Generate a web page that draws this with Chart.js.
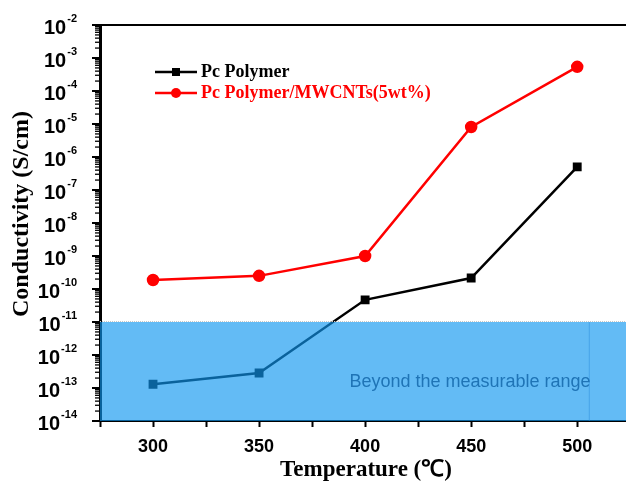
<!DOCTYPE html>
<html>
<head>
<meta charset="utf-8">
<script src="https://cdn.jsdelivr.net/npm/chart.js@4/dist/chart.umd.min.js"></script>
<style>
  html, body { margin: 0; padding: 0; background: #fff; }
  #wrap { width: 626px; height: 490px; }
</style>
</head>
<body>
<div id="wrap"><canvas id="conductivity-chart" width="626" height="490"></canvas></div>
<script>
// Values
const temperatures = [300, 350, 400, 450, 500];
const pcPolymer = [1.3e-13, 2.85e-13, 4.7e-11, 2.15e-10, 5.0e-7];
const pcPolymerCnt = [1.87e-10, 2.5e-10, 1.0e-9, 8.1e-6, 5.4e-4];
const seriesNames = ['Pc Polymer', 'Pc Polymer/MWCNTs(5wt%)'];
const seriesColors = ['#000000', '#ff0000'];
const xTickLabels = [300, 350, 400, 450, 500];
const yExponents = [-14, -13, -12, -11, -10, -9, -8, -7, -6, -5, -4, -3, -2];
const measurableLimit = 1e-11;

const SANS = '"Liberation Sans", Arial, sans-serif';
const SERIF = '"Liberation Serif", "Times New Roman", serif';

// band, axis decorations, legend and titles
const decor = {
    id: 'decor',
    afterDatasetsDraw(chart) {
        const {ctx, chartArea: a, scales: {x, y}} = chart;
        const top = y.getPixelForValue(measurableLimit);
        ctx.save();
        ctx.fillStyle = 'rgba(15, 150, 240, 0.65)';
        ctx.fillRect(a.left, top, a.right - a.left, a.bottom - top);
        // dotted edge
        ctx.strokeStyle = '#c8c8c8';
        ctx.lineWidth = 1;
        ctx.setLineDash([1, 1]);
        ctx.beginPath();
        ctx.moveTo(a.left, top - 0.5);
        ctx.lineTo(a.right, top - 0.5);
        ctx.stroke();
        ctx.setLineDash([]);
        // faint seam in the band
        const sx = x.getPixelForValue(505.7);
        ctx.strokeStyle = 'rgba(40, 140, 220, 0.5)';
        ctx.beginPath();
        ctx.moveTo(sx, top);
        ctx.lineTo(sx, a.bottom);
        ctx.stroke();
        ctx.fillStyle = '#1f74b6';
        ctx.font = '18px ' + SANS;
        ctx.textAlign = 'center';
        ctx.textBaseline = 'middle';
        ctx.fillText('Beyond the measurable range', 470, 382);
        ctx.restore();
    },
    afterDraw(chart) {
        const {ctx, chartArea: a, scales: {y}} = chart;
        ctx.save();
        // top frame
        ctx.strokeStyle = '#000';
        ctx.lineWidth = 2;
        ctx.beginPath();
        ctx.moveTo(a.left, a.top);
        ctx.lineTo(a.right, a.top);
        ctx.stroke();

        // y ticks (log, with minors)
        yExponents.forEach(e => {
            for (let m = 1; m <= 9; m++) {
                if (e === -2 && m > 1) break;
                const py = y.getPixelForValue(m * Math.pow(10, e));
                ctx.lineWidth = m === 1 ? 2 : 1.3;
                ctx.beginPath();
                ctx.moveTo(a.left - (m === 1 ? 8 : 5), py);
                ctx.lineTo(a.left, py);
                ctx.stroke();
            }
        });

        // y tick labels 10^e
        ctx.fillStyle = '#000';
        ctx.textBaseline = 'alphabetic';
        yExponents.forEach(e => {
            const py = y.getPixelForValue(Math.pow(10, e));
            const exp = String(e);
            ctx.font = 'bold 11px ' + SANS;
            const ew = ctx.measureText(exp).width;
            const right = 77;
            ctx.textAlign = 'right';
            ctx.fillText(exp, right, py - 3);
            ctx.font = 'bold 20px ' + SANS;
            ctx.fillText('10', right - ew - 1, py + 9);
        });

        // legend
        const rows = [72, 93];
        rows.forEach((ry, i) => {
            ctx.strokeStyle = seriesColors[i];
            ctx.fillStyle = seriesColors[i];
            ctx.lineWidth = 2.5;
            ctx.beginPath();
            ctx.moveTo(155, ry);
            ctx.lineTo(197, ry);
            ctx.stroke();
            ctx.beginPath();
            if (i === 0) ctx.rect(172, ry - 4, 8, 8);
            else ctx.arc(176, ry, 5, 0, Math.PI * 2);
            ctx.fill();
            ctx.font = 'bold 18px ' + SERIF;
            ctx.textAlign = 'left';
            ctx.textBaseline = 'middle';
            ctx.fillText(seriesNames[i], 201, ry);
        });

        // axis titles
        ctx.fillStyle = '#000';
        ctx.textAlign = 'center';
        ctx.textBaseline = 'middle';
        ctx.font = 'bold 23px ' + SERIF;
        ctx.fillText('Temperature (℃)', 366, 470);
        ctx.font = 'bold 24px ' + SERIF;
        ctx.translate(22, 214);
        ctx.rotate(-Math.PI / 2);
        ctx.fillText('Conductivity (S/cm)', 0, 0);
        ctx.restore();
    }
};

new Chart(document.getElementById('conductivity-chart'), {
    type: 'line',
    data: {
        labels: temperatures,
        datasets: [{
            label: seriesNames[0],
            data: temperatures.map((t, i) => ({x: t, y: pcPolymer[i]})),
            borderColor: seriesColors[0],
            backgroundColor: seriesColors[0],
            borderWidth: 2.5,
            pointStyle: 'rect',
            pointRadius: 4.5,
            pointHoverRadius: 4.5,
            tension: 0
        }, {
            label: seriesNames[1],
            data: temperatures.map((t, i) => ({x: t, y: pcPolymerCnt[i]})),
            borderColor: seriesColors[1],
            backgroundColor: seriesColors[1],
            borderWidth: 2.5,
            pointStyle: 'circle',
            pointRadius: 5,
            pointHoverRadius: 5,
            tension: 0
        }]
    },
    options: {
        responsive: false,
        animation: false,
        devicePixelRatio: 1,
        layout: {autoPadding: false, padding: {top: 25, left: 0, right: 0, bottom: 0}},
        plugins: {
            legend: {display: false},
            tooltip: {enabled: false}
        },
        scales: {
            x: {
                type: 'linear',
                min: 275,
                max: 523,
                afterFit: s => {
                    s.height = 69;
                    s.paddingLeft = 0;
                    s.paddingRight = 0;
                },
                afterBuildTicks: s => {
                    s.ticks = [275, 300, 325, 350, 375, 400, 425, 450, 475, 500].map(v => ({value: v}));
                },
                ticks: {
                    autoSkip: false,
                    maxRotation: 0,
                    padding: 9,
                    color: '#000',
                    font: {family: SANS, size: 18, weight: 'bold'},
                    callback: v => xTickLabels.includes(v) ? String(v) : ''
                },
                grid: {
                    drawOnChartArea: false,
                    tickLength: 6,
                    tickWidth: 2,
                    color: '#000'
                },
                border: {color: '#000', width: 2}
            },
            y: {
                type: 'logarithmic',
                min: 1e-14,
                max: 1e-2,
                afterFit: s => { s.width = 100; },
                ticks: {display: false},
                grid: {display: false},
                border: {color: '#000', width: 3}
            }
        }
    },
    plugins: [decor]
});
</script>
</body>
</html>
